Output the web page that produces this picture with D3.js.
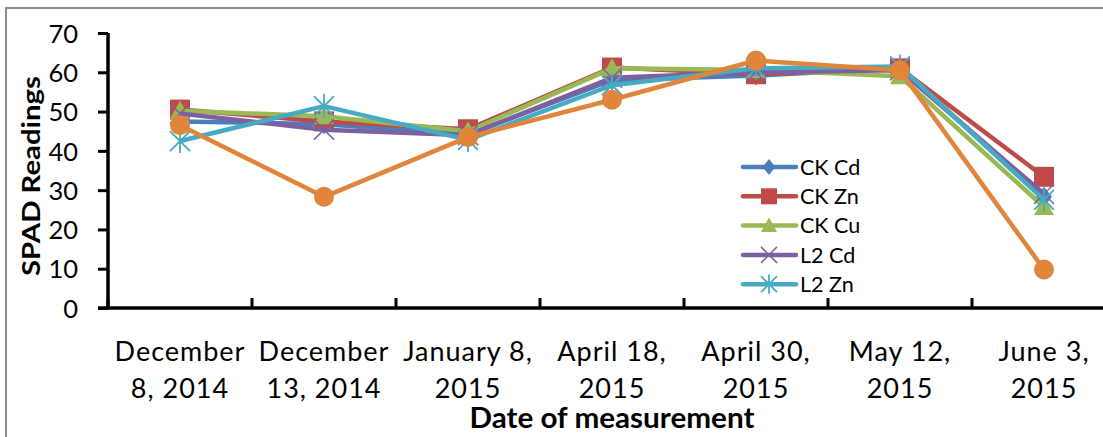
<!DOCTYPE html>
<html lang="en">
<head>
<meta charset="UTF-8">
<title>SPAD Readings</title>
<script src="https://d3js.org/d3.v7.min.js"></script>
<style>
    body { margin: 0; background: #fff; }
    svg text { font-family: 'Lato', 'Open Sans', sans-serif; fill: #000; }
</style>
</head>
<body>
<div id="chart"></div>
<script>
    // data
    const dates = [
        ["December", "8, 2014"], ["December", "13, 2014"], ["January 8,", "2015"],
        ["April 18,", "2015"], ["April 30,", "2015"], ["May 12,", "2015"], ["June 3,", "2015"]
    ];
    const seriesNames = ["CK Cd", "CK Zn", "CK Cu", "L2 Cd", "L2 Zn", "L2 Cu"];
    const ckCd = [47.5, 46.8, 44.2, 58.0, 59.2, 61.0, 28.3];
    const ckZn = [50.5, 47.5, 45.5, 61.2, 59.5, 61.0, 33.4];
    const ckCu = [50.2, 48.8, 45.0, 61.0, 60.6, 59.0, 25.7];
    const l2Cd = [49.5, 45.4, 44.0, 58.6, 60.0, 60.5, 29.0];
    const l2Zn = [42.5, 51.4, 42.8, 56.7, 61.0, 61.5, 27.5];
    const l2Cu = [46.5, 28.3, 43.5, 53.0, 63.0, 60.5, 9.8];
    const yTicks = [0, 10, 20, 30, 40, 50, 60, 70];

    const colors = ["#4A7EBB", "#BE4B48", "#98B954", "#7D60A0", "#46AAC5", "#E0853A"];
    const shapes = ["diamond", "square", "triangle", "cross", "star", "circle"];
    const values = [ckCd, ckZn, ckCu, l2Cd, l2Zn, l2Cu];

    const width = 1103, height = 437;
    const plotL = 108, plotR = 1116, plotT = 33, plotB = 308;

    const svg = d3.select("#chart").append("svg")
        .attr("width", width).attr("height", height);

    // outer frame
    svg.append("rect")
        .attr("x", 6).attr("y", 8).attr("width", 1110).attr("height", 440)
        .attr("fill", "none").attr("stroke", "#8c8c8c").attr("stroke-width", 2);

    const x = d3.scaleBand().domain(d3.range(dates.length)).range([plotL, plotR]).padding(0);
    const y = d3.scaleLinear().domain([0, 70]).range([plotB, plotT]);

    // y axis
    const yAxis = svg.append("g")
        .attr("transform", `translate(${plotL},0)`)
        .call(d3.axisLeft(y).tickValues(yTicks).tickSize(10).tickPadding(20));
    yAxis.select(".domain").attr("stroke", "#000").attr("stroke-width", 3.5)
        .attr("d", `M0,${plotT}V${plotB}`);
    yAxis.selectAll(".tick line").attr("stroke", "#000").attr("stroke-width", 3);
    yAxis.selectAll(".tick text").style("font-size", "25.5px").attr("dy", "0.36em");

    // x axis
    const xAxis = svg.append("g").attr("transform", `translate(0,${plotB})`);
    xAxis.append("line").attr("x1", plotL - 10).attr("x2", plotR)
        .attr("stroke", "#000").attr("stroke-width", 3.5);
    const bounds = d3.range(dates.length + 1).map(i => i < dates.length ? x(i) : x(i - 1) + x.bandwidth());
    xAxis.selectAll(".xtick").data(bounds).enter().append("line")
        .attr("x1", d => d).attr("x2", d => d).attr("y1", 0).attr("y2", -10)
        .attr("stroke", "#000").attr("stroke-width", 3);
    const lab = xAxis.selectAll(".xlab").data(dates).enter().append("text")
        .attr("text-anchor", "middle")
        .style("font-size", "27px").style("letter-spacing", "1px");
    lab.append("tspan").attr("x", (d, i) => x(i) + x.bandwidth() / 2).attr("y", 53).text(d => d[0]);
    lab.append("tspan").attr("x", (d, i) => x(i) + x.bandwidth() / 2).attr("y", 90).text(d => d[1]);

    // axis titles
    svg.append("text")
        .attr("x", 612).attr("y", 428)
        .attr("text-anchor", "middle")
        .attr("textLength", 285).attr("lengthAdjust", "spacingAndGlyphs")
        .style("font-size", "29px").style("font-weight", "bold")
        .text("Date of measurement");
    svg.append("text")
        .attr("transform", "translate(40,176) rotate(-90)")
        .attr("text-anchor", "middle")
        .attr("textLength", 200).attr("lengthAdjust", "spacingAndGlyphs")
        .style("font-size", "25px").style("font-weight", "bold")
        .text("SPAD Readings");

    function marker(sel, shape, color, s) {
        if (shape === "circle") {
            sel.append("circle").attr("r", s * 0.95).attr("fill", color);
        } else if (shape === "square") {
            sel.append("rect").attr("x", -s).attr("y", -s).attr("width", 2 * s).attr("height", 2 * s).attr("fill", color);
        } else if (shape === "diamond") {
            sel.append("path").attr("d", `M0,${-s}L${s * 0.8},0L0,${s}L${-s * 0.8},0Z`).attr("fill", color);
        } else if (shape === "triangle") {
            sel.append("path").attr("d", `M0,${-s}L${s},${s * 0.8}L${-s},${s * 0.8}Z`).attr("fill", color);
        } else if (shape === "cross") {
            sel.append("path").attr("d", `M${-s},${-s}L${s},${s}M${-s},${s}L${s},${-s}`)
                .attr("stroke", color).attr("stroke-width", 1.5).attr("fill", "none");
        } else if (shape === "star") {
            sel.append("path").attr("d", `M${-s},${-s}L${s},${s}M${-s},${s}L${s},${-s}M0,${-s * 1.2}V${s * 1.2}`)
                .attr("stroke", color).attr("stroke-width", 1.8).attr("fill", "none");
        }
    }

    const line = d3.line().x((d, i) => x(i) + x.bandwidth() / 2).y(d => y(d));

    values.forEach((vals, k) => {
        const g = svg.append("g");
        g.append("path").datum(vals).attr("d", line)
            .attr("fill", "none").attr("stroke", colors[k]).attr("stroke-width", 4.5)
            .attr("stroke-linejoin", "round");
        vals.forEach((v, i) => {
            const m = g.append("g").attr("transform", `translate(${x(i) + x.bandwidth() / 2},${y(v)})`);
            marker(m, shapes[k], colors[k], k === 5 ? 10.5 : 10);
        });
    });

    // legend (first five series only, as in the original)
    const legend = svg.append("g");
    seriesNames.slice(0, 5).forEach((name, k) => {
        const ly = 167 + k * 29.3;
        const row = legend.append("g").attr("transform", `translate(0,${ly})`);
        row.append("line").attr("x1", 743).attr("x2", 796)
            .attr("stroke", colors[k]).attr("stroke-width", 4.5).attr("stroke-linecap", "round");
        const m = row.append("g").attr("transform", "translate(769,0)");
        marker(m, shapes[k], colors[k], 8);
        row.append("text").attr("x", 800).attr("y", 0).attr("dy", "0.36em")
            .style("font-size", "21.5px").text(name);
    });
</script>
</body>
</html>
